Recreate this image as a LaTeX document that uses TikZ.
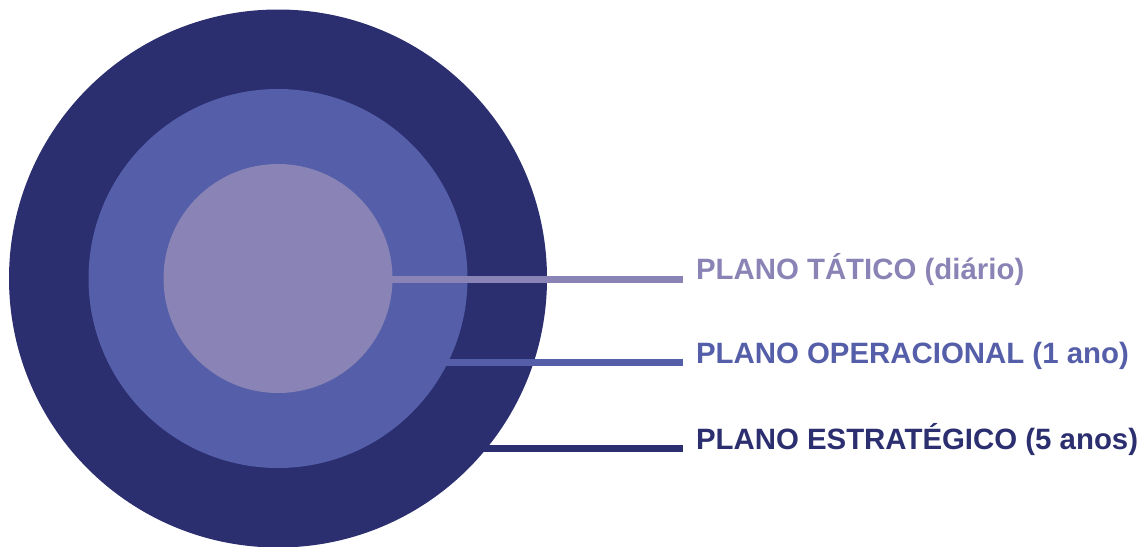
\documentclass[tikz,border=0pt]{standalone}
\usepackage{fontspec}
\setmainfont{Liberation Sans}
\definecolor{ringouter}{HTML}{2B2E6F}
\definecolor{ringmid}{HTML}{555EA8}
\definecolor{ringinner}{HTML}{8984B5}
\begin{document}
\begin{tikzpicture}[x=1pt,y=-1pt,
  ring/.style={circle,inner sep=0pt,outer sep=0pt,draw=none},
  leader/.style={line width=6.5pt},
  lbl/.style={anchor=base west,inner sep=0pt,outer sep=0pt,
    font=\fontsize{29.4}{34}\selectfont\bfseries}]
\useasboundingbox (0,0) rectangle (1147,546);

% line ends and labels
\coordinate (endT) at (683,279);
\coordinate (endO) at (683,362.5);
\coordinate (endS) at (683,448.5);
\node[lbl,text=ringinner] (lblT) at (696,279.5) {PLANO TÁTICO (diário)};
\node[lbl,text=ringmid]   (lblO) at (696,363.5) {PLANO OPERACIONAL (1 ano)};
\node[lbl,text=ringouter] (lblS) at (696,449.5) {PLANO ESTRATÉGICO (5 anos)};

% outer ring and its leader
\node[ring,fill=ringouter,minimum size=538pt] (outer) at (278,278.5) {};
\draw[leader,ringouter] (outer.center |- endS) -- (endS);

% middle ring and its leader
\node[ring,fill=ringmid,minimum size=379pt] (middle) at (outer.center) {};
\draw[leader,ringmid] (middle.center |- endO) -- (endO);

% inner disc and its leader
\node[ring,fill=ringinner,minimum size=229pt] (inner) at (outer.center) {};
\draw[leader,ringinner,line width=7pt] (inner.center |- endT) -- (endT);
\end{tikzpicture}
\end{document}
